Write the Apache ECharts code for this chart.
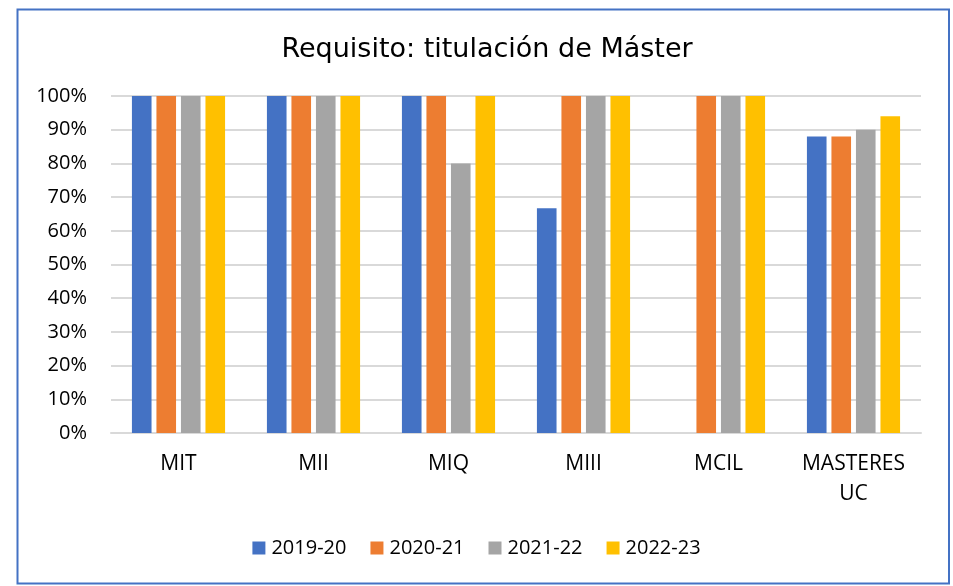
<!DOCTYPE html>
<html>
<head>
<meta charset="utf-8">
<script src="https://cdn.jsdelivr.net/npm/echarts@6/dist/echarts.min.js"></script>
<style>
  html, body { margin: 0; padding: 0; background: #ffffff; }
  #chart { width: 953px; height: 586px; }
</style>
</head>
<body>
<div id="chart"></div>
<script>
// Master programmes and the share of students meeting the Master's-degree requirement
const categories = ['MIT', 'MII', 'MIQ', 'MIII', 'MCIL', 'MASTERES\nUC'];
const years = ['2019-20', '2020-21', '2021-22', '2022-23'];
const y2019 = [100, 100, 100, 66.7, null, 88];
const y2020 = [100, 100, 100, 100, 100, 88];
const y2021 = [100, 100, 80, 100, 100, 90];
const y2022 = [100, 100, 100, 100, 100, 94];
const yTicks = [0, 10, 20, 30, 40, 50, 60, 70, 80, 90, 100];

const colors = ['#4472C4', '#ED7D31', '#A5A5A5', '#FFC000'];
const seriesValues = [y2019, y2020, y2021, y2022];
const labelFont = '"Open Sans", "Liberation Sans", sans-serif';

const chart = echarts.init(document.getElementById('chart'), null, { renderer: 'canvas' });

chart.setOption({
  animation: false,
  backgroundColor: '#ffffff',
  color: colors,
  title: {
    text: 'Requisito: titulación de Máster',
    left: 482,
    top: 31,
    textAlign: 'center',
    textStyle: {
      fontFamily: '"DejaVu Sans", Verdana, sans-serif',
      fontWeight: 'normal',
      fontSize: 27,
      color: '#000000'
    }
  },
  legend: {
    data: years,
    bottom: 23,
    left: 'center',
    itemWidth: 13,
    itemHeight: 13,
    itemGap: 24,
    icon: 'rect',
    textStyle: { fontFamily: labelFont, fontSize: 20, color: '#000000', padding: [0, 0, 0, 1] }
  },
  grid: { left: 111, right: 32, top: 96, bottom: 153, containLabel: false },
  xAxis: {
    type: 'category',
    data: categories,
    axisLine: { show: true, lineStyle: { color: '#d9d9d9', width: 2 } },
    axisTick: { show: false },
    axisLabel: {
      fontFamily: labelFont,
      fontSize: 21,
      color: '#000000',
      margin: 16,
      lineHeight: 30,
      align: 'center',
      verticalAlign: 'top'
    }
  },
  yAxis: {
    type: 'value',
    min: yTicks[0],
    max: yTicks[yTicks.length - 1],
    interval: 10,
    axisLine: { show: false },
    axisTick: { show: false },
    splitLine: { lineStyle: { color: '#d9d9d9', width: 2 } },
    axisLabel: {
      fontFamily: labelFont,
      fontSize: 20,
      color: '#000000',
      margin: 24,
      formatter: v => v + '%'
    }
  },
  series: years.map((name, i) => ({
    name: name,
    type: 'bar',
    data: seriesValues[i],
    barGap: '25%',
    barCategoryGap: '31%',
    itemStyle: { color: colors[i] }
  })),
  graphic: [{
    type: 'rect',
    shape: { x: 17.5, y: 9.5, width: 931.5, height: 574 },
    style: { fill: 'none', stroke: '#4472C4', lineWidth: 2 },
    z: 100
  }]
});
</script>
</body>
</html>
